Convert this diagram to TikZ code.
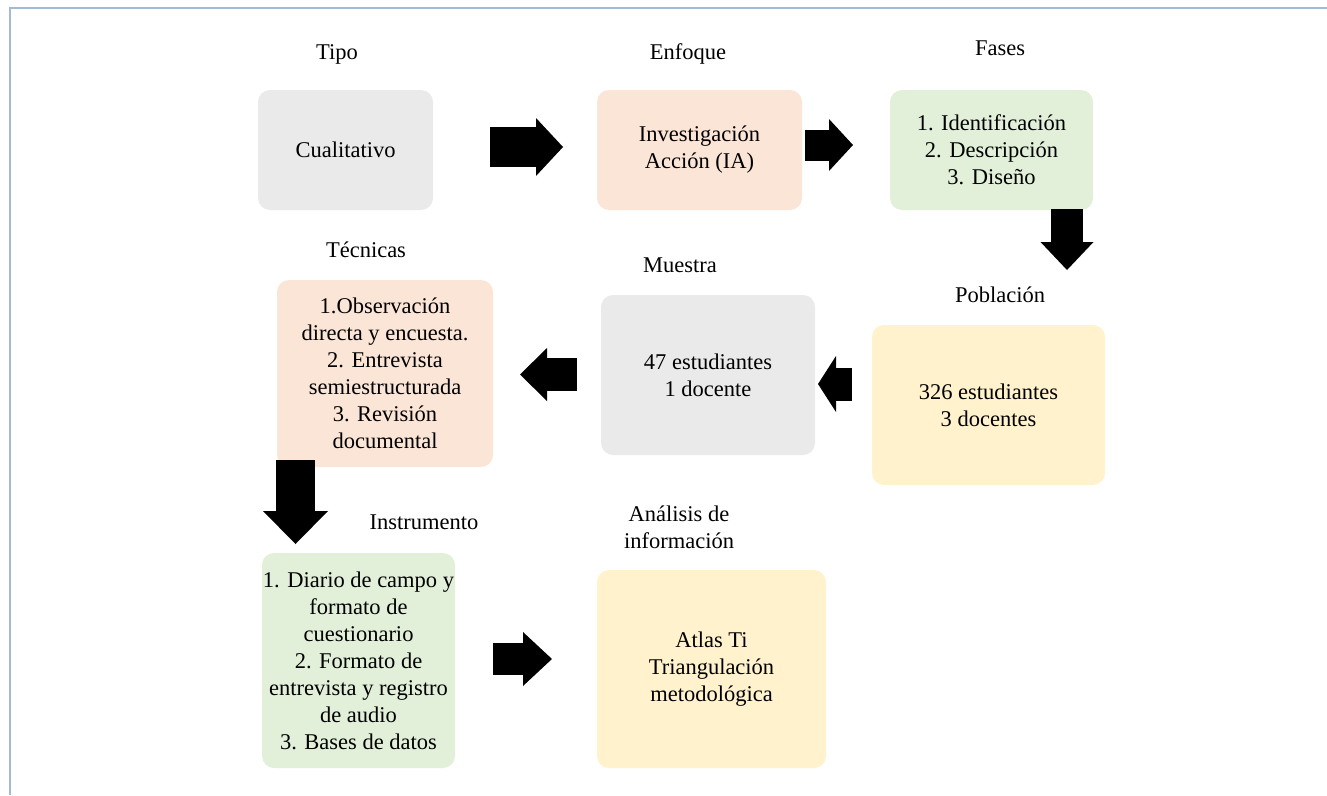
\documentclass[tikz,border=0pt]{standalone}
\usepackage{fontspec}
\setmainfont{Liberation Serif}
\newfontfamily\serifa{Liberation Serif}
\usetikzlibrary{arrows.meta}
\definecolor{gris}{RGB}{234,234,234}
\definecolor{durazno}{RGB}{251,229,214}
\definecolor{verde}{RGB}{226,240,217}
\definecolor{crema}{RGB}{255,242,204}
\definecolor{marco}{RGB}{165,184,212}

\begin{document}
\begin{tikzpicture}[x=1pt,y=-1pt,font=\serifa\fontsize{22.5}{27}\selectfont,
    caja/.style={rounded corners=12pt,inner sep=0pt,align=center},
    titulo/.style={align=center},
    flecha/.style n args={3}{line width=#1,-{Triangle[length=#3,width=#2,line width=0pt]}}]

        \useasboundingbox (0,0) rectangle (1327,795);
        \draw[marco,line width=2pt] (10,795) -- (10,8) -- (1327,8);

        \node[caja,fill=gris,minimum width=175pt,minimum height=120pt] (tipo) at (345.5,150) {Cualitativo};
        \node[caja,fill=durazno,minimum width=205pt,minimum height=120pt] (enfoque) at (699.5,150) {Investigación\\Acción (IA)};
        \node[caja,fill=verde,minimum width=203pt,minimum height=120pt] (fases) at (991.5,150) {1. Identificación\\2. Descripción\\3. Diseño};
        \node[caja,fill=crema,minimum width=233pt,minimum height=160pt] (poblacion) at (988.5,405) {326 estudiantes\\3 docentes};
        \node[caja,fill=gris,minimum width=214pt,minimum height=160pt] (muestra) at (708,375) {47 estudiantes\\1 docente};
        \node[caja,fill=durazno,minimum width=216pt,minimum height=187pt] (tecnicas) at (385,373.5) {1.Observación\\directa y encuesta.\\2. Entrevista\\semiestructurada\\3. Revisión\\documental};
        \node[caja,fill=verde,minimum width=193pt,minimum height=215pt] (instrumento) at (358.5,660.5) {1. Diario de campo y\\formato de\\cuestionario\\2. Formato de\\entrevista y registro\\de audio\\3. Bases de datos};
        \node[caja,fill=crema,minimum width=229pt,minimum height=198pt] (analisis) at (711.5,669) {Atlas Ti\\Triangulación\\metodológica};

        \node[titulo] (ttipo) at (337,54) {Tipo};
        \node[titulo] (tenfoque) at (688,54) {Enfoque};
        \node[titulo] (tfases) at (1000,48) {Fases};
        \node[titulo] (ttecnicas) at (366,250) {Técnicas};
        \node[titulo] (tmuestra) at (680,265) {Muestra};
        \node[titulo] (tpoblacion) at (1000,295) {Población};
        \node[titulo] (tinstrumento) at (424,522) {Instrumento};
        \node[titulo] (tanalisis) at (679,527) {Análisis de\\información};

        % extremos de las flechas
        \coordinate (f1a) at (490,147);   \coordinate (f1b) at (563,147);
        \coordinate (f2a) at (805,145);   \coordinate (f2b) at (853,145);
        \coordinate (f3a) at (1067,209);  \coordinate (f3b) at (1067,270);
        \coordinate (f4a) at (852,384);   \coordinate (f4b) at (818,384);
        \coordinate (f5a) at (577,374.5); \coordinate (f5b) at (520,374.5);
        \coordinate (f6a) at (295.5,460); \coordinate (f6b) at (295.5,544);
        \coordinate (f7a) at (493,659);   \coordinate (f7b) at (552,659);

        \path
        (f1a) edge[flecha={40pt}{58pt}{27pt}] (f1b)
        (f2a) edge[flecha={31pt}{52pt}{24pt}] (f2b)
        (f3a) edge[flecha={32pt}{53pt}{28pt}] (f3b)
        (f4a) edge[flecha={33pt}{56pt}{18pt}] (f4b)
        (f5a) edge[flecha={33pt}{53pt}{27pt}] (f5b)
        (f6a) edge[flecha={39pt}{65pt}{33pt}] (f6b)
        (f7a) edge[flecha={32pt}{54pt}{29pt}] (f7b)
        ;
\end{tikzpicture}
\end{document}
